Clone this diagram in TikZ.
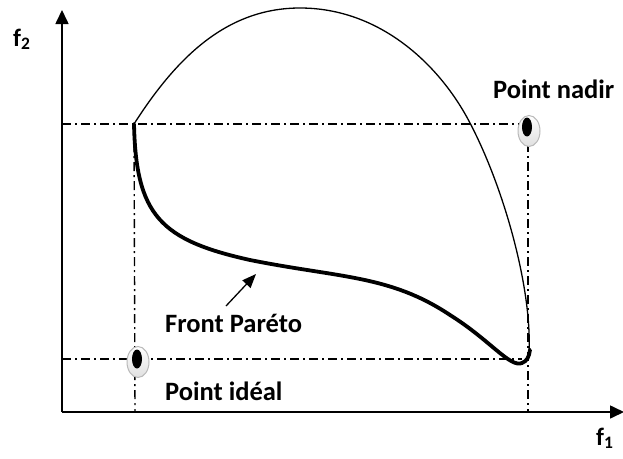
\documentclass[tikz,border=0pt]{standalone}
\usepackage{fontspec}
\setmainfont{Carlito}
\usetikzlibrary{arrows.meta,shapes.geometric}
\begin{document}
\begin{tikzpicture}[x=1pt,y=-1pt,
  axis/.style={line width=1.6pt,-{Triangle[width=13pt,length=14pt]}},
  dashdot/.style={line width=1.4pt,dash pattern=on 9pt off 4pt on 2pt off 4pt},
  lbl/.style={font=\bfseries\fontsize{26.5}{30}\selectfont,inner sep=0pt},
  axlbl/.style={font=\bfseries\fontsize{25}{28}\selectfont,inner sep=0pt},
  outer/.style={line width=1.3pt},
  front/.style={line width=3.8pt,line cap=round},
  ptouter/.style={ellipse,draw=gray!55,line width=1pt,top color=white,bottom color=gray!25,minimum width=22pt,minimum height=31pt,inner sep=0pt},
  ptinner/.style={ellipse,fill=black,minimum width=10pt,minimum height=19pt,inner sep=0pt}]
\useasboundingbox (0,0) rectangle (623,458);
% axes
\coordinate (O) at (62,412);
\coordinate (Ytop) at (62,10);
\coordinate (Xend) at (624,412);
\draw[axis] (O) -- (Ytop);
\draw[axis] (O) -- (Xend);
% reference points
\coordinate (A) at (134,124);
\coordinate (Nad) at (528,124);
\coordinate (Yt) at (62,124);
\coordinate (Yb) at (62,359);
\coordinate (Xa) at (135,412);
\coordinate (Xn) at (528,412);
\coordinate (Bend) at (522,359);
\draw[dashdot] (Yt) -- (Nad);
\draw[dashdot] (Yb) -- (Bend);
\draw[dashdot] (A) -- (Xa);
\draw[dashdot] (Nad) -- (Xn);
% outer feasible region
\draw[outer] (A) .. controls (175,60) and (225,8) .. (300,8)
  .. controls (380,8) and (440,65) .. (470,123)
  .. controls (505,190) and (532,290) .. (529,352);
% Pareto front
\draw[front] (A) .. controls (136,215) and (160,240) .. (250,260)
  .. controls (340,278) and (390,275) .. (450,315)
  .. controls (490,340) and (510,368) .. (522,363)
  .. controls (527,361) and (529,357) .. (530,350);
% markers
\node[ptouter] (nadir) at (529,131) {};
\node[ptinner] (nadirc) at (527,127) {};
\node[ptouter] (ideal) at (138,362) {};
\node[ptinner] (idealc) at (137,359) {};
% labels
\node[axlbl,anchor=base west] (f2) at (13,46) {f\textsubscript{2}};
\node[axlbl,anchor=base west] (f1) at (596,445) {f\textsubscript{1}};
\node[lbl,anchor=base west] (lnadir) at (493,98) {Point nadir};
\node[lbl,anchor=base west] (lideal) at (165,400) {Point idéal};
\node[lbl,anchor=base west] (lfront) at (165,332) {Front Paréto};
\coordinate (arS) at (226,306);
\coordinate (arE) at (256,274);
\draw[line width=1.3pt,-{Triangle[width=11pt,length=14pt]}] (arS) -- (arE);
\end{tikzpicture}
\end{document}
